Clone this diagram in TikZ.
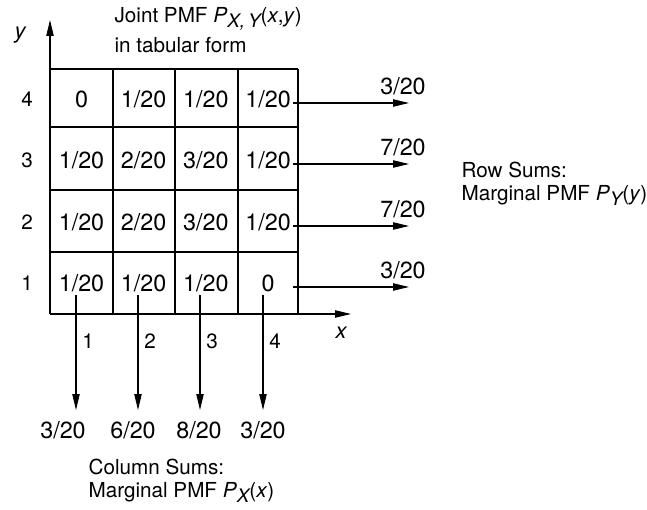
\documentclass[tikz,border=0pt]{standalone}
\usepackage{fontspec}
\setmainfont{TeX Gyre Heros}
\usetikzlibrary{arrows.meta}
\newcommand{\pmfsub}[1]{\raisebox{-0.5ex}{\fontsize{14}{14}\selectfont\itshape #1}}
\newcommand{\pmfval}[1]{\ifnum#1=0 0\else #1/20\fi}

\begin{document}
\begin{tikzpicture}[x=0.75pt,y=-0.75pt,line width=0.9pt,
    >={Triangle[length=12pt,width=5.5pt]},
    every node/.style={font=\fontsize{17.5}{20}\selectfont,inner sep=0pt},
    ticklab/.style={font=\fontsize{15.5}{17}\selectfont},
    axlab/.style={font=\fontsize{16.5}{19}\selectfont\itshape},
    note/.style={anchor=west,align=left,font=\fontsize{15.5}{17.25}\selectfont}]
\useasboundingbox (0,0) rectangle (647,510);

% Axes
\coordinate (O) at (50,314);
\coordinate (ytip) at (50,20);
\coordinate (xtip) at (351,314);
\draw[->] (O) -- (ytip);
\draw[->] (O) -- (xtip);
\node[axlab] (ylab) at (20,35) {y};
\node[axlab] (xlab) at (341,333) {x};

% Table
\foreach \gx in {50,113,175,238,298} \draw (\gx,69) -- (\gx,314);
\foreach \gy in {69,127,190,252} \draw (50,\gy) -- (298,\gy);
\node[note,font=\fontsize{15.5}{22.5}\selectfont] (title) at (114,30)
  {Joint PMF \textit{P}\pmfsub{X,\,Y}(\textit{x},\textit{y})\\in tabular form};

% Cells and row sums
\foreach \r/\ry/\vals/\s in {4/99/{0,1,1,1}/3,3/160/{1,2,3,1}/7,2/222/{1,2,3,1}/7,1/283/{1,1,1,0}/3} {
  \node[ticklab] (rl\r) at (27,\ry) {\r};
  \foreach \v [count=\c] in \vals
    \node (v\c\r) at ({81.5+62.2*(\c-1)},\ry) {\pmfval{\v}};
  \coordinate (ra\r) at (293,\ry+4);
  \coordinate (rb\r) at (409,\ry+4);
  \draw[->] (ra\r) -- (rb\r);
  \node (rs\r) at (403,\ry-13) {\s/20};
}
\node[note] (rownote) at (461,184)
  {Row Sums:\\Marginal PMF \textit{P}\pmfsub{Y}(\textit{y})};

% Column sums
\foreach \c/\ax/\sx/\s in {1/76/63/3,2/138/133/6,3/200/199/8,4/263/263/3} {
  \coordinate (ca\c) at (\ax,295);
  \coordinate (cb\c) at (\ax,410);
  \draw[->] (ca\c) -- (cb\c);
  \node[ticklab] (cl\c) at (\ax+12,341) {\c};
  \node (cs\c) at (\sx,430) {\s/20};
}
\node[note] (colnote) at (88,481)
  {Column Sums:\\Marginal PMF \textit{P}\pmfsub{X}(\textit{x})};

\end{tikzpicture}
\end{document}
